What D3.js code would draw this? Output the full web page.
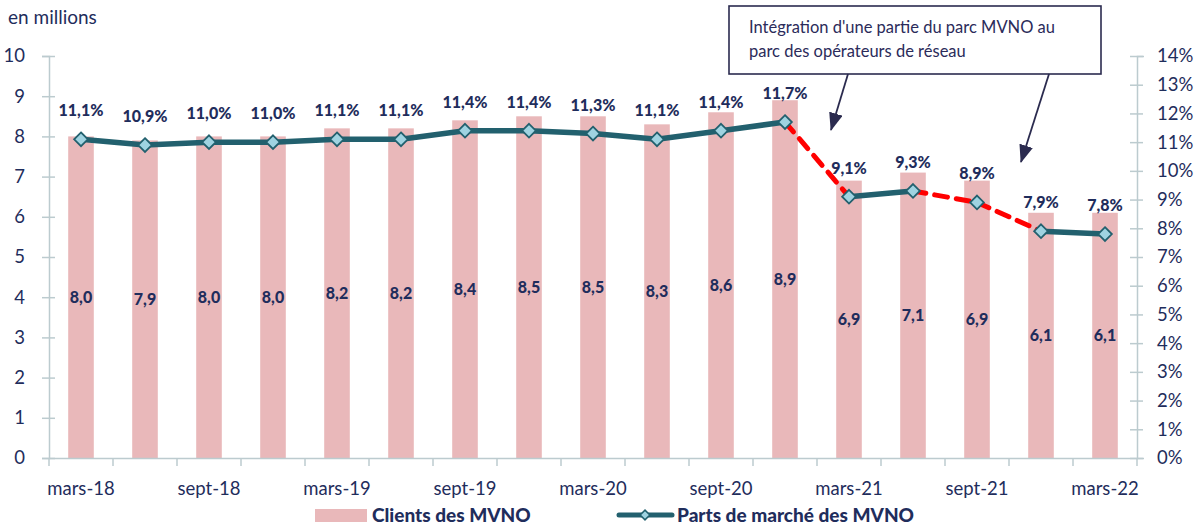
<!DOCTYPE html>
<html>
<head>
<meta charset="utf-8">
<script src="https://cdn.jsdelivr.net/npm/d3@7"></script>
<style>
  body { margin: 0; background: #fff; }
  text { font-family: Lato, "Open Sans", sans-serif; }
</style>
</head>
<body>
<div class="container"></div>
<script>

const categories = ['mars-18', 'juin-18', 'sept-18', 'déc-18', 'mars-19', 'juin-19', 'sept-19', 'déc-19',
  'mars-20', 'juin-20', 'sept-20', 'déc-20', 'mars-21', 'juin-21', 'sept-21', 'déc-21', 'mars-22'];
const clients = [8.0, 7.9, 8.0, 8.0, 8.2, 8.2, 8.4, 8.5, 8.5, 8.3, 8.6, 8.9, 6.9, 7.1, 6.9, 6.1, 6.1];
const parts = [11.1, 10.9, 11.0, 11.0, 11.1, 11.1, 11.4, 11.4, 11.3, 11.1, 11.4, 11.7, 9.1, 9.3, 8.9, 7.9, 7.8];
// segments (start index) drawn as red dashes
const dashed = [11, 13, 14];
const leftTicks = [0, 1, 2, 3, 4, 5, 6, 7, 8, 9, 10];
const rightTicks = [0, 1, 2, 3, 4, 5, 6, 7, 8, 9, 10, 11, 12, 13, 14];

const width = 1202;
const height = 528;
const mLeft = 49, mRight = 1137, mTop = 56, mBottom = 458;
const navy = '#1f2d5c';
const axisCol = '#bccbcf';
const teal = '#22606e';

const fmt = v => v.toFixed(1).replace('.', ',');

const svg = d3.select('.container')
  .append('svg')
  .attr('width', width)
  .attr('height', height);

const xScale = d3.scaleBand()
  .domain(categories)
  .range([mLeft, mRight])
  .paddingInner(0)
  .paddingOuter(0);

const yScale = d3.scaleLinear()
  .domain([0, 10])
  .range([mBottom, mTop]);

const y2Scale = d3.scaleLinear()
  .domain([0, 14])
  .range([mBottom, mTop]);

const cx = d => xScale(d) + xScale.bandwidth() / 2;
const barW = xScale.bandwidth() * 0.4;

// bars
svg.selectAll('rect.bar')
  .data(clients)
  .enter()
  .append('rect')
  .attr('class', 'bar')
  .attr('x', (d, i) => cx(categories[i]) - barW / 2)
  .attr('y', d => yScale(d))
  .attr('width', barW)
  .attr('height', d => yScale(0) - yScale(d))
  .attr('fill', '#e9b8ba');

// left axis
const gLeft = svg.append('g')
  .attr('transform', `translate(${mLeft},0)`)
  .call(d3.axisLeft(yScale).tickValues(leftTicks).tickSize(7).tickPadding(17));
gLeft.selectAll('.tick line').attr('x2', 6).attr('x1', -7);

// right axis
const gRight = svg.append('g')
  .attr('transform', `translate(${mRight},0)`)
  .call(d3.axisRight(y2Scale).tickValues(rightTicks).tickFormat(d => d + '%').tickSize(7).tickPadding(13));
gRight.selectAll('.tick line').attr('x1', -7).attr('x2', 6);

// bottom axis, ticks on category boundaries
const gBottom = svg.append('g')
  .attr('transform', `translate(0,${mBottom})`)
  .call(d3.axisBottom(xScale).tickSize(0).tickPadding(20)
    .tickFormat((d, i) => i % 2 === 0 ? d : ''));
gBottom.selectAll('.bound')
  .data(categories.concat(['end']))
  .enter()
  .append('line')
  .attr('class', 'bound')
  .attr('x1', (d, i) => i < categories.length ? xScale(d) : mRight)
  .attr('x2', (d, i) => i < categories.length ? xScale(d) : mRight)
  .attr('y1', 0)
  .attr('y2', 8)
  .attr('stroke', axisCol)
  .attr('stroke-width', 1.5);

[gLeft, gRight, gBottom].forEach(g => {
  g.select('.domain').attr('stroke', axisCol).attr('stroke-width', 1.5);
  g.selectAll('.tick line').attr('stroke', axisCol).attr('stroke-width', 1.5);
  g.selectAll('.tick text')
    .attr('fill', navy)
    .style('font-size', '18.5px')
    .style('font-family', 'Lato, sans-serif');
});
gBottom.selectAll('.tick text').attr('dy', '0.9em');

svg.append('text')
  .attr('x', 8)
  .attr('y', 24)
  .attr('fill', navy)
  .style('font-size', '19px')
  .text('en millions');

// line segments
const pts = parts.map((d, i) => [cx(categories[i]), y2Scale(d)]);
const segs = d3.range(parts.length - 1).map(i => ({ i, dash: dashed.includes(i) }));
svg.selectAll('line.seg')
  .data(segs)
  .enter()
  .append('line')
  .attr('class', 'seg')
  .attr('x1', d => pts[d.i][0])
  .attr('y1', d => pts[d.i][1])
  .attr('x2', d => pts[d.i + 1][0])
  .attr('y2', d => pts[d.i + 1][1])
  .attr('stroke', d => d.dash ? '#ff0000' : teal)
  .attr('stroke-width', d => d.dash ? 5 : 5.5)
  .attr('stroke-dasharray', d => d.dash ? '13,9' : null)
  .attr('stroke-linecap', 'round');

// diamonds
const diamond = d3.symbol().type(d3.symbolDiamond2).size(120);
svg.selectAll('path.mk')
  .data(parts)
  .enter()
  .append('path')
  .attr('class', 'mk')
  .attr('d', diamond)
  .attr('transform', (d, i) => `translate(${cx(categories[i])},${y2Scale(d)})`)
  .attr('fill', '#9fd3e1')
  .attr('stroke', teal)
  .attr('stroke-width', 1.8);

// labels
svg.selectAll('text.pl')
  .data(parts)
  .enter()
  .append('text')
  .attr('class', 'pl')
  .attr('x', (d, i) => cx(categories[i]))
  .attr('y', d => y2Scale(d) - 23)
  .attr('text-anchor', 'middle')
  .attr('fill', navy)
  .style('font-size', '16px')
  .style('font-weight', '900')
  .text(d => fmt(d) + '%');

svg.selectAll('text.bl')
  .data(clients)
  .enter()
  .append('text')
  .attr('class', 'bl')
  .attr('x', (d, i) => cx(categories[i]))
  .attr('y', d => (yScale(d) + yScale(0)) / 2 + 6)
  .attr('text-anchor', 'middle')
  .attr('fill', navy)
  .style('font-size', '16px')
  .style('font-weight', '900')
  .text(d => fmt(d));

// annotation
svg.append('rect')
  .attr('x', 729)
  .attr('y', 6)
  .attr('width', 372)
  .attr('height', 68)
  .attr('fill', '#fff')
  .attr('stroke', '#2b2b4f')
  .attr('stroke-width', 1.6);
svg.append('text')
  .attr('x', 749)
  .attr('y', 33)
  .attr('fill', '#2b2b5a')
  .style('font-size', '16.5px')
  .text("Intégration d'une partie du parc MVNO au");
svg.append('text')
  .attr('x', 749)
  .attr('y', 57)
  .attr('fill', '#2b2b5a')
  .style('font-size', '16.5px')
  .text('parc des opérateurs de réseau');

svg.append('defs').append('marker')
  .attr('id', 'arr')
  .attr('viewBox', '0 0 18 14')
  .attr('refX', 17)
  .attr('refY', 7)
  .attr('markerUnits', 'userSpaceOnUse')
  .attr('markerWidth', 18)
  .attr('markerHeight', 14)
  .attr('orient', 'auto')
  .append('path')
  .attr('d', 'M0,0 L18,7 L0,14 z')
  .attr('fill', '#2b2b4f');

const arrows = [[848, 74, 831, 130], [1049, 74, 1021, 162]];
svg.selectAll('line.arrow')
  .data(arrows)
  .enter()
  .append('line')
  .attr('class', 'arrow')
  .attr('x1', d => d[0])
  .attr('y1', d => d[1])
  .attr('x2', d => d[2])
  .attr('y2', d => d[3])
  .attr('stroke', '#2b2b4f')
  .attr('stroke-width', 1.8)
  .attr('marker-end', 'url(#arr)');

// legend
const lg = svg.append('g');
lg.append('rect')
  .attr('x', 315).attr('y', 509).attr('width', 52).attr('height', 13)
  .attr('fill', '#e9b8ba');
lg.append('text')
  .attr('x', 372).attr('y', 522)
  .attr('fill', navy)
  .style('font-size', '19px')
  .style('font-weight', '900')
  .text('Clients des MVNO');
lg.append('line')
  .attr('x1', 619).attr('x2', 672).attr('y1', 515).attr('y2', 515)
  .attr('stroke', teal).attr('stroke-width', 5).attr('stroke-linecap', 'round');
lg.append('path')
  .attr('d', d3.symbol().type(d3.symbolDiamond2).size(60))
  .attr('transform', 'translate(645,515)')
  .attr('fill', '#9fd3e1').attr('stroke', teal).attr('stroke-width', 1.5);
lg.append('text')
  .attr('x', 677).attr('y', 522)
  .attr('fill', navy)
  .style('font-size', '19px')
  .style('font-weight', '900')
  .text('Parts de marché des MVNO');

</script>
</body>
</html>
